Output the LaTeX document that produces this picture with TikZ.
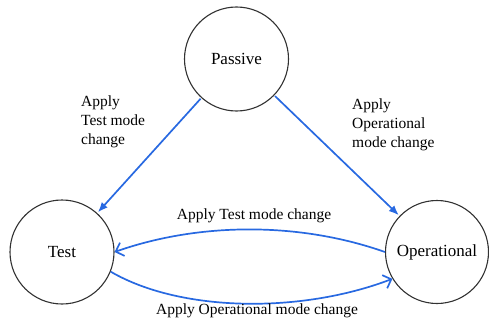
\documentclass[tikz,border=0pt]{standalone}
\usepackage{fontspec}
\setmainfont{Liberation Serif}
\newfontfamily\tnr{Liberation Serif}
\usetikzlibrary{arrows.meta}
\definecolor{arrowblue}{RGB}{40,105,225}
\definecolor{ringgray}{RGB}{50,50,50}
\begin{document}
\begin{tikzpicture}[x=1pt,y=-1pt,
  state/.style={circle,draw=ringgray,line width=1.1pt,inner sep=0pt,font=\tnr\fontsize{17}{20}\selectfont},
  lbl/.style={inner sep=0pt,font=\tnr\fontsize{15.5}{19}\selectfont,text=black},
  straightarr/.style={draw=arrowblue,line width=1.7pt,-{Latex[length=10pt,width=8pt]},shorten >=1pt,shorten <=1pt},
  curvearr/.style={draw=arrowblue,line width=1.7pt,-{Straight Barb[length=7pt,width=14pt,line width=1.7pt]}}]
\useasboundingbox (0,0) rectangle (489,321);
\node[state,minimum size=104pt] (P) at (236.5,59) {Passive};
\node[state,minimum size=104pt] (T) at (62,252) {Test};
\node[state,minimum size=103pt] (O) at (437,252) {Operational};
\draw[straightarr] (P) -- (T);
\draw[straightarr] (P) -- (O);
\draw[curvearr] (O.west) .. controls (300,222) and (200,222) .. (T.east);
\draw[curvearr] (T.-22) .. controls (180,312) and (300,314) .. (O.211);
\node[lbl,anchor=north west,align=left] (l1) at (81,96) {Apply\\Test mode\\change};
\node[lbl,anchor=north west,align=left] (l2) at (352,99) {Apply\\Operational\\mode change};
\node[lbl] (l3) at (254,216) {Apply Test mode change};
\node[lbl] (l4) at (257,311) {Apply Operational mode change};
\end{tikzpicture}
\end{document}
